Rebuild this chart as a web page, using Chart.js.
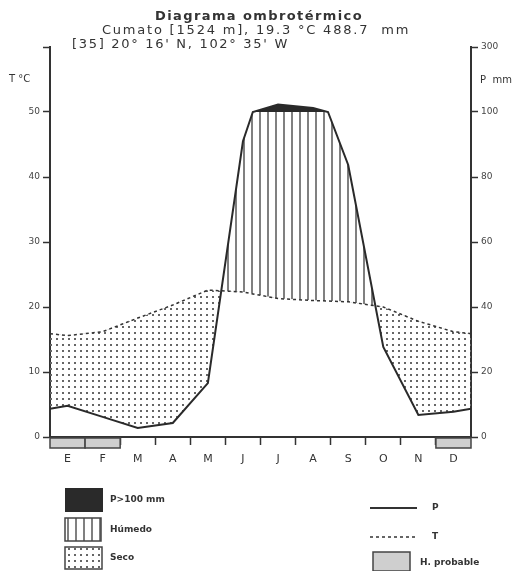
<!DOCTYPE html>
<html>
<head>
<meta charset="utf-8">
<script src="https://cdn.jsdelivr.net/npm/chart.js@4.4.1/dist/chart.umd.min.js"></script>
<style>
  html, body { margin: 0; padding: 0; background: #fff; }
</style>
</head>
<body>
<canvas id="diagrama" width="531" height="571"></canvas>
<script>
// datos de la estacion
const meses = ['E', 'F', 'M', 'A', 'M', 'J', 'J', 'A', 'S', 'O', 'N', 'D'];
const temperatura = [15.6, 16.2, 18.3, 20.3, 22.6, 22.3, 21.3, 21.0, 20.8, 20.0, 17.8, 16.2];
const precipitacion = [9.6, 6.2, 2.8, 4.3, 16.6, 91, 123, 112, 83.7, 27.7, 6.8, 7.8];
const heladaProbable = [1, 1, 0, 0, 0, 0, 0, 0, 0, 0, 0, 1];
const ticksT = [0, 10, 20, 30, 40, 50, 60];
const ticksP = ['0', '20', '40', '60', '80', '100', '300'];

const INK = '#333';
const FONT = 'DejaVu Sans';

// P se dibuja a escala 2:1 con T hasta 100 mm, por encima a 1/10
function escalaP(p) {
    return p <= 100 ? p / 2 : 50 + (p - 100) / 20;
}

// centros de mes + los dos bordes (media de diciembre y enero)
function serie(vals) {
    const borde = (vals[0] + vals[11]) / 2;
    const pts = [{ x: 0, y: borde }];
    vals.forEach((v, i) => pts.push({ x: i + 0.5, y: v }));
    pts.push({ x: 12, y: borde });
    return pts;
}

// vertice donde la precipitacion cruza los 100 mm (cambio de escala)
function conCortes100(pts) {
    const out = [pts[0]];
    for (let i = 1; i < pts.length; i++) {
        const a = pts[i - 1], b = pts[i];
        if ((a.y - 100) * (b.y - 100) < 0) {
            out.push({ x: a.x + (100 - a.y) / (b.y - a.y) * (b.x - a.x), y: 100 });
        }
        out.push(b);
    }
    return out;
}

function patron(w, h, dibujar) {
    const c = document.createElement('canvas');
    c.width = w; c.height = h;
    const g = c.getContext('2d');
    dibujar(g);
    return g.createPattern(c, 'repeat');
}

const rayado = patron(8, 8, g => {
    g.fillStyle = '#808080';
    g.fillRect(3, 0, 2, 8);
});
const punteado = patron(6, 6, g => {
    g.fillStyle = '#666';
    g.fillRect(2, 2, 2, 2);
});

const pLinea = conCortes100(serie(precipitacion)).map(p => ({ x: p.x, y: escalaP(p.y) }));
const pHumedo = pLinea.map(p => ({ x: p.x, y: Math.min(p.y, 50) }));
const tLinea = serie(temperatura);

const textos = {
    id: 'textos',
    afterDraw(chart) {
        const ctx = chart.ctx;
        const xs = chart.scales.x;
        const bottom = chart.chartArea.bottom;
        ctx.save();
        ctx.fillStyle = INK;
        ctx.textBaseline = 'middle';

        ctx.textAlign = 'center';
        ctx.font = 'bold 13px ' + FONT;
        ctx.letterSpacing = '1.4px';
        ctx.fillText('Diagrama ombrotérmico', 259, 17);
        ctx.font = '13px ' + FONT;
        ctx.letterSpacing = '1.8px';
        ctx.fillText('Cumato [1524 m], 19.3 °C 488.7  mm', 256, 31);
        ctx.textAlign = 'left';
        ctx.letterSpacing = '1.7px';
        ctx.fillText("[35] 20° 16' N, 102° 35' W", 72, 45);
        ctx.letterSpacing = '0px';

        ctx.font = '10px ' + FONT;
        ctx.fillText('T °C', 9, 79);
        ctx.fillText('P  mm', 480, 80);

        // meses con helada probable
        ctx.strokeStyle = '#444';
        ctx.lineWidth = 1.5;
        heladaProbable.forEach((h, i) => {
            if (!h) return;
            const x0 = xs.getPixelForValue(i), x1 = xs.getPixelForValue(i + 1);
            ctx.fillStyle = '#cfcfcf';
            ctx.fillRect(x0, bottom + 1, x1 - x0, 10);
            ctx.strokeRect(x0, bottom + 1, x1 - x0, 10);
        });

        // leyenda
        ctx.lineWidth = 1.5;
        ctx.fillStyle = '#2a2a2a';
        ctx.fillRect(65, 488, 38, 24);
        ctx.fillStyle = rayado;
        ctx.fillRect(65, 518, 36, 23);
        ctx.strokeRect(65, 518, 36, 23);
        ctx.fillStyle = punteado;
        ctx.fillRect(65, 547, 37, 22);
        ctx.strokeRect(65, 547, 37, 22);
        ctx.fillStyle = '#cfcfcf';
        ctx.fillRect(373, 552, 37, 19);
        ctx.strokeRect(373, 552, 37, 19);

        ctx.strokeStyle = INK;
        ctx.lineWidth = 2;
        ctx.beginPath(); ctx.moveTo(370, 508); ctx.lineTo(417, 508); ctx.stroke();
        ctx.lineWidth = 1.5;
        ctx.setLineDash([3, 3]);
        ctx.beginPath(); ctx.moveTo(370, 537); ctx.lineTo(417, 537); ctx.stroke();
        ctx.setLineDash([]);

        ctx.fillStyle = INK;
        ctx.font = 'bold 9px ' + FONT;
        ctx.fillText('P>100 mm', 110, 500);
        ctx.fillText('Húmedo', 110, 530);
        ctx.fillText('Seco', 110, 558);
        ctx.fillText('P', 432, 508);
        ctx.fillText('T', 432, 537);
        ctx.fillText('H. probable', 420, 563);
        ctx.restore();
    }
};

function ejeY(posicion, ancho, etiqueta) {
    return {
        type: 'linear',
        position: posicion,
        min: 0,
        max: 60,
        afterBuildTicks: s => { s.ticks = ticksT.map(v => ({ value: v })); },
        afterFit: s => { s.width = ancho; },
        grid: { drawOnChartArea: false, tickLength: 7, tickWidth: 1.5, tickColor: INK },
        border: { color: INK, width: 2 },
        ticks: { padding: 3, color: '#444', font: { family: FONT, size: 9 }, callback: etiqueta }
    };
}

new Chart(document.getElementById('diagrama'), {
    type: 'line',
    data: {
        datasets: [
            {
                data: pLinea,
                borderColor: '#2a2a2a',
                borderWidth: 2,
                pointRadius: 0,
                tension: 0,
                fill: { target: { value: 50 }, above: '#2a2a2a', below: 'rgba(0,0,0,0)' }
            },
            {
                data: pHumedo,
                borderColor: 'rgba(0,0,0,0)',
                borderWidth: 0,
                pointRadius: 0,
                tension: 0,
                fill: { target: 2, above: rayado, below: punteado }
            },
            {
                data: tLinea,
                borderColor: INK,
                borderWidth: 1.5,
                borderDash: [3, 3],
                pointRadius: 0,
                tension: 0,
                fill: false
            }
        ]
    },
    options: {
        responsive: false,
        animation: false,
        devicePixelRatio: 1,
        layout: { padding: { top: 47 } },
        plugins: {
            legend: { display: false },
            tooltip: { enabled: false },
            filler: { drawTime: 'beforeDatasetsDraw' }
        },
        scales: {
            x: {
                type: 'linear',
                min: 0,
                max: 12,
                afterBuildTicks: s => {
                    s.ticks = [];
                    for (let i = 0; i <= 24; i++) s.ticks.push({ value: i / 2 });
                },
                afterFit: s => { s.height = 134; },
                grid: {
                    drawOnChartArea: false,
                    tickLength: 8,
                    tickWidth: 1.5,
                    tickColor: c => (c.tick && Number.isInteger(c.tick.value) && c.tick.value > 0 && c.tick.value < 12) ? INK : 'rgba(0,0,0,0)'
                },
                border: { color: INK, width: 2 },
                ticks: {
                    autoSkip: false,
                    maxRotation: 0,
                    padding: 8,
                    color: INK,
                    font: { family: FONT, size: 11 },
                    callback: v => Number.isInteger(v) ? '' : meses[Math.floor(v)]
                }
            },
            y: ejeY('left', 50, v => v === 60 ? '' : v),
            y2: ejeY('right', 60, v => ticksP[ticksT.indexOf(v)])
        }
    },
    plugins: [textos]
});
</script>
</body>
</html>
